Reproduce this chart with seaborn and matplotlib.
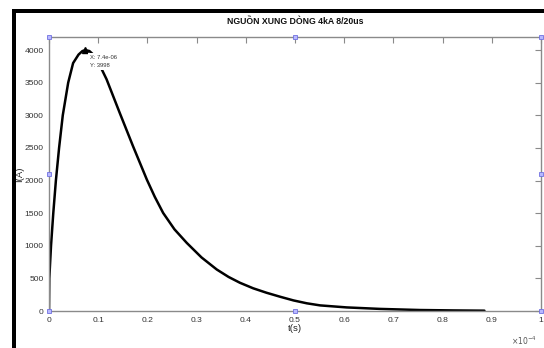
import matplotlib
matplotlib.use("Agg")
import matplotlib.pyplot as plt
from matplotlib.patches import Rectangle
import seaborn as sns
import pandas as pd
import numpy as np

# ---- data ----
t_us = [0, 0.06, 0.41, 0.87, 1.4, 2.05, 2.8, 3.9, 4.9, 6.0, 6.8, 7.4, 8.2, 9.0,
        10.3, 11.7, 14.4, 17.1, 19.9, 21.5, 23.2, 25.5, 28.0, 31.0, 34.1,
        36.5, 38.8, 41.5, 44.2, 47.0, 49.7, 52.4, 55.1, 60.5, 67.3, 75.4,
        82.0, 88.5]
current = [0, 500, 1000, 1500, 2000, 2500, 3000, 3500, 3800, 3930, 3985, 3998,
           3985, 3930, 3770, 3552, 3032, 2522, 2012, 1750, 1503, 1252, 1044,
           821, 636, 522, 433, 348, 280, 218, 162, 118, 86, 55, 32, 15, 9, 5]
peak_t = 7.4e-6
peak_i = 3998
x_ticks = [0, 0.1, 0.2, 0.3, 0.4, 0.5, 0.6, 0.7, 0.8, 0.9, 1.0]
x_tick_labels = ["0", "0.1", "0.2", "0.3", "0.4", "0.5", "0.6", "0.7", "0.8", "0.9", "1"]
y_ticks = [0, 500, 1000, 1500, 2000, 2500, 3000, 3500, 4000]
title = "NGUỒN XUNG DÒNG 4kA 8/20us"

sns.set_style("white")
plt.rcParams["font.family"] = ["Liberation Sans Narrow", "Liberation Sans", "DejaVu Sans"]

df = pd.DataFrame({"t": np.array(t_us) * 1e-6, "I": current})

W, H = 544, 348
fig = plt.figure(figsize=(W / 100, H / 100), dpi=100)
fig.patch.set_facecolor("white")

# black screenshot frame (left and top)
fig.patches.append(Rectangle((12 / W, 0), 4 / W, (H - 9) / H, transform=fig.transFigure,
                             facecolor="black", edgecolor="none", zorder=0))
fig.patches.append(Rectangle((12 / W, (H - 13) / H), (W - 12) / W, 4 / H,
                             transform=fig.transFigure, facecolor="black",
                             edgecolor="none", zorder=0))

ax = fig.add_axes([49 / W, 1 - 311 / H, (541 - 49) / W, (311 - 37) / H])
sns.lineplot(data=df, x="t", y="I", ax=ax, color="black", linewidth=1.8,
             estimator=None, sort=False)
ax.plot([peak_t], [peak_i], marker="^", color="black", markersize=4)

ax.set_xlim(0, 1e-4)
ax.set_ylim(0, 4200)
ax.set_xticks([v * 1e-4 for v in x_ticks])
ax.set_xticklabels(x_tick_labels)
ax.set_yticks(y_ticks)
ax.set_yticklabels([str(v) for v in y_ticks])

gray = "#8a8a8a"
for s in ax.spines.values():
    s.set_color(gray)
    s.set_linewidth(1.0)
    s.set_visible(True)
ax.tick_params(direction="in", length=4, width=0.8, color=gray, labelsize=6.1,
               labelcolor="#333333", top=True, right=True, pad=4)

ax.set_xlabel("t(s)", fontsize=6.8, color="#222222", labelpad=0)
ax.set_ylabel("I(A)", fontsize=6.8, color="#222222")
ax.yaxis.set_label_coords(-0.05, 0.5)
ax.set_title(title, fontsize=6.3, fontweight="bold", color="#111111", pad=9)

fig.text(537 / W, 1 - 341 / H, r"$\times10^{-4}$", fontsize=5.5,
         color="#555555", ha="right", va="center")

# data tip
ax.text(8.3e-6, 3925, "X: 7.4e-06\nY: 3998", fontsize=4.2, color="#333333",
        ha="left", va="top", linespacing=1.7,
        bbox=dict(facecolor="white", edgecolor="none", pad=1.5), zorder=5)

# plot-edit selection handles
for hx in (0, 0.5, 1):
    for hy in (0, 1):
        ax.plot([hx], [hy], marker="s", markersize=3.5, markerfacecolor="#b8b8ff",
                markeredgecolor="#7070e0", markeredgewidth=0.6,
                transform=ax.transAxes, clip_on=False, zorder=6)
for hx in (0, 1):
    ax.plot([hx], [0.5], marker="s", markersize=3.5, markerfacecolor="#b8b8ff",
            markeredgecolor="#7070e0", markeredgewidth=0.6,
            transform=ax.transAxes, clip_on=False, zorder=6)

fig.savefig("out.png", dpi=100, facecolor="white")
